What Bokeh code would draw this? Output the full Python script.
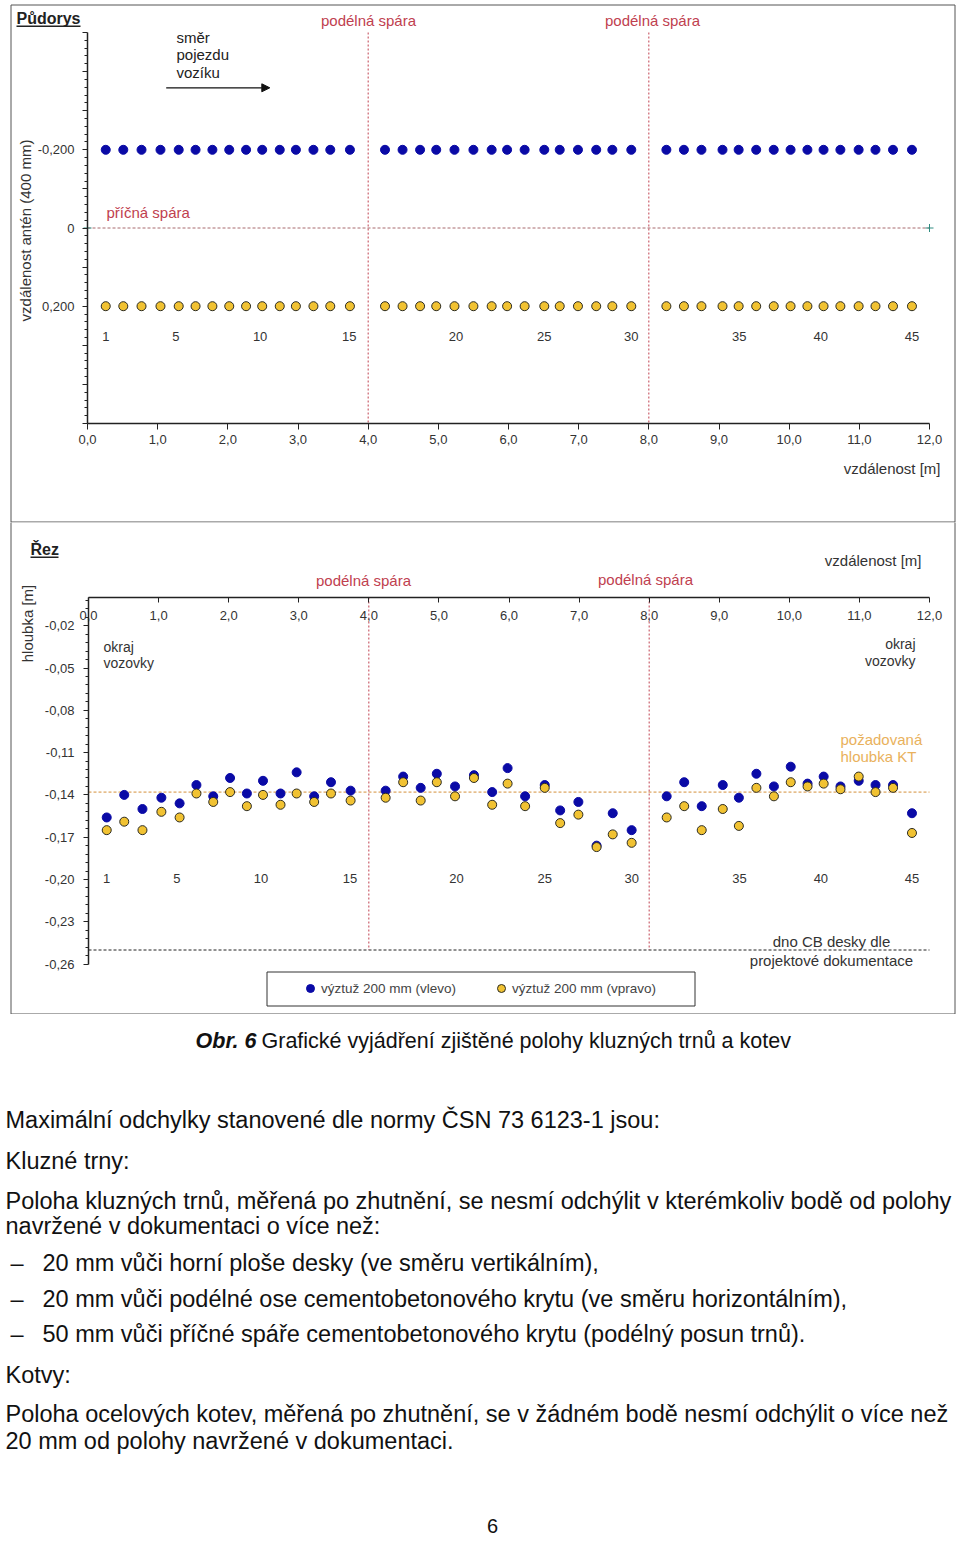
from bokeh.plotting import figure
from bokeh.models import (Range1d, FixedTicker, CustomJSTickFormatter, Label, Arrow,
                          NormalHead, BoxAnnotation, Legend, LegendItem)
from bokeh.layouts import column
from bokeh.embed import file_html
from bokeh.resources import INLINE

FONT = "Liberation Sans"
BLUE = "#0a0aa6"
YELLOW = "#f1c232"
DOT_EDGE = "#2b2b22"
JOINT_RED = "#c0404f"
TEXT = "#333333"

# ---------------- data ----------------
point_no = list(range(1, 46))
position_m = [0.26, 0.51, 0.77, 1.04, 1.30, 1.54, 1.78, 2.02, 2.26, 2.49, 2.74, 2.97, 3.22, 3.46, 3.74,
              4.24, 4.49, 4.74, 4.97, 5.23, 5.50, 5.76, 5.98, 6.23, 6.51, 6.73, 6.99, 7.25, 7.48, 7.75,
              8.25, 8.50, 8.75, 9.05, 9.28, 9.53, 9.78, 10.02, 10.26, 10.49, 10.73, 10.99, 11.23, 11.48, 11.75]
plan_left = [-0.200, -0.200, -0.200, -0.200, -0.200, -0.200, -0.200, -0.200, -0.200, -0.200,
             -0.200, -0.200, -0.200, -0.200, -0.200, -0.200, -0.200, -0.200, -0.200, -0.200,
             -0.200, -0.200, -0.200, -0.200, -0.200, -0.200, -0.200, -0.200, -0.200, -0.200,
             -0.200, -0.200, -0.200, -0.200, -0.200, -0.200, -0.200, -0.200, -0.200, -0.200,
             -0.200, -0.200, -0.200, -0.200, -0.200]
plan_right = [0.200, 0.200, 0.200, 0.200, 0.200, 0.200, 0.200, 0.200, 0.200, 0.200,
              0.200, 0.200, 0.200, 0.200, 0.200, 0.200, 0.200, 0.200, 0.200, 0.200,
              0.200, 0.200, 0.200, 0.200, 0.200, 0.200, 0.200, 0.200, 0.200, 0.200,
              0.200, 0.200, 0.200, 0.200, 0.200, 0.200, 0.200, 0.200, 0.200, 0.200,
              0.200, 0.200, 0.200, 0.200, 0.200]
depth_left = [-0.156, -0.140, -0.150, -0.142, -0.146, -0.133, -0.141, -0.128, -0.139, -0.130,
              -0.139, -0.124, -0.141, -0.131, -0.137,
              -0.137, -0.127, -0.135, -0.125, -0.134, -0.126, -0.138, -0.121, -0.141, -0.133,
              -0.151, -0.145, -0.176, -0.153, -0.165,
              -0.141, -0.131, -0.148, -0.133, -0.142, -0.125, -0.134, -0.120, -0.132, -0.127,
              -0.134, -0.130, -0.133, -0.133, -0.153]
depth_right = [-0.165, -0.159, -0.165, -0.152, -0.156, -0.139, -0.145, -0.138, -0.148, -0.140,
               -0.147, -0.139, -0.145, -0.139, -0.144,
               -0.142, -0.131, -0.144, -0.131, -0.141, -0.128, -0.147, -0.132, -0.148, -0.135,
               -0.160, -0.154, -0.177, -0.168, -0.174,
               -0.156, -0.148, -0.165, -0.150, -0.162, -0.135, -0.141, -0.131, -0.134, -0.132,
               -0.136, -0.127, -0.138, -0.135, -0.167]
number_labels = ["1", "5", "10", "15", "20", "25", "30", "35", "40", "45"]
number_label_x = [0.26, 1.26, 2.46, 3.73, 5.25, 6.51, 7.75, 9.29, 10.45, 11.75]
joint_x = [4.0, 8.0]
transverse_joint = 0.0
required_depth = -0.138
slab_bottom = -0.25
distance_min, distance_max = 0.0, 12.0
plan_min, plan_max = -0.5, 0.5
depth_min, depth_max = -0.26, 0.0
x_ticks = [0.0, 1.0, 2.0, 3.0, 4.0, 5.0, 6.0, 7.0, 8.0, 9.0, 10.0, 11.0, 12.0]
plan_y_ticks = [-0.5, -0.4, -0.3, -0.2, -0.1, 0.0, 0.1, 0.2, 0.3, 0.4, 0.5]
plan_y_label_values = [-0.2, 0.0, 0.2]
plan_y_label_texts = ["-0,200", "0", "0,200"]
depth_y_ticks = [-0.02, -0.05, -0.08, -0.11, -0.14, -0.17, -0.20, -0.23, -0.26]
legend_labels = ["výztuž 200 mm (vlevo)", "výztuž 200 mm (vpravo)"]

caption_bold = "Obr. 6"
caption_rest = "Grafické vyjádření zjištěné polohy kluzných trnů a kotev"
body_lines = [
    "Maximální odchylky stanovené dle normy ČSN 73 6123-1 jsou:",
    "Kluzné trny:",
    "Poloha kluzných trnů, měřená po zhutnění, se nesmí odchýlit v kterémkoliv bodě od polohy",
    "navržené v dokumentaci o více než:",
    None, None, None,
    "Kotvy:",
    "Poloha ocelových kotev, měřená po zhutnění, se v žádném bodě nesmí odchýlit o více než",
    "20 mm od polohy navržené v dokumentaci.",
]
bullet_lines = [
    "20 mm vůči horní ploše desky (ve směru vertikálním),",
    "20 mm vůči podélné ose cementobetonového krytu (ve směru horizontálním),",
    "50 mm vůči příčné spáře cementobetonového krytu (podélný posun trnů).",
]
page_number = "6"

plan_y_minor = [round(-0.5 + 0.02 * i, 3) for i in range(51) if i % 5 != 0]
depth_y_minor = [round(-0.26 + 0.006 * i, 3) for i in range(1, 44) if i % 5 != 0]

# ---------------- layout (pixels) ----------------
W = 958
H1, H2, H3 = 522, 492, 528
# panel 1: x 0 m at px 87, 12 m at px 929; y -0.5 at px 32, 0.5 at px 423
S1X = (929 - 87) / 12.0
S1Y = (423 - 32) / 1.0
def f1x(px): return (px - 87) / S1X
def f1y(py): return -0.5 + (py - 32) / S1Y
# panel 2 (page px, panel starts at 522): x 0 m at px 88, 12 m at px 929; y 0 at px 597
S2X = (929 - 88) / 12.0
S2Y = 1410.0
def f2x(px): return (px - 88) / S2X
def f2y(py): return -(py - 597) / S2Y


# ---------------- helpers ----------------
def style_axis(ax, size="13px"):
    ax.axis_line_color = "#222222"
    ax.axis_line_width = 1.5
    ax.major_tick_line_color = "#222222"
    ax.minor_tick_line_color = "#222222"
    ax.major_label_text_font = FONT
    ax.major_label_text_font_size = size
    ax.major_label_text_color = TEXT


def label(p, x, y, text, size="15px", color=TEXT, align="left", baseline="middle",
          style="normal", angle=0.0):
    p.add_layout(Label(x=x, y=y, text=text, text_font=FONT, text_font_size=size,
                       text_color=color, text_align=align, text_baseline=baseline,
                       text_font_style=style, angle=angle))


def box(p, left, right, top, bottom, fill=None, line="#555555"):
    p.add_layout(BoxAnnotation(left=left, right=right, top=top, bottom=bottom,
                               fill_color=fill if fill else "white", fill_alpha=1.0 if fill else 0.0,
                               line_color=line if line else "white", line_width=1,
                               line_alpha=1.0 if line else 0.0))


def base_fig(**kw):
    p = figure(output_backend="svg", toolbar_location=None, min_border=0,
               min_border_left=0, min_border_right=0, min_border_top=0, min_border_bottom=0, **kw)
    p.outline_line_color = None
    p.background_fill_color = "white"
    p.border_fill_color = "white"
    p.grid.visible = False
    return p


# ---------------- panel 1: Půdorys ----------------
p1 = base_fig(width=W, height=H1,
              x_range=Range1d(f1x(0), f1x(W)), y_range=Range1d(f1y(H1), f1y(0)))

xa = p1.xaxis[0]
xa.fixed_location = plan_max
xa.bounds = (distance_min, distance_max)
xa.ticker = FixedTicker(ticks=x_ticks, minor_ticks=[])
xa.formatter = CustomJSTickFormatter(code="return tick.toFixed(1).replace('.', ',');")
style_axis(xa)
xa.major_tick_out = 6
xa.major_tick_in = 0
xa.minor_tick_out = 0
xa.minor_tick_in = 0
xa.major_label_standoff = 5

ya = p1.yaxis[0]
ya.fixed_location = distance_min
ya.bounds = (plan_min, plan_max)
ya.ticker = FixedTicker(ticks=plan_y_ticks, minor_ticks=plan_y_minor)
ya.formatter = CustomJSTickFormatter(
    args=dict(vals=plan_y_label_values, txts=plan_y_label_texts),
    code="for (let i = 0; i < vals.length; i++) { if (Math.abs(tick - vals[i]) < 1e-9) return txts[i]; } return '';")
style_axis(ya)
ya.major_tick_out = 5
ya.major_tick_in = 0
ya.minor_tick_out = 3
ya.minor_tick_in = 0
ya.major_label_standoff = 8

# joints
p1.segment(x0=joint_x, y0=[plan_min, plan_min], x1=joint_x, y1=[plan_max, plan_max],
           line_color=JOINT_RED, line_dash="2 2", line_width=1)
p1.segment(x0=[distance_min], y0=[transverse_joint], x1=[distance_max], y1=[transverse_joint],
           line_color="#a86a6e", line_dash="3 2", line_width=1)
p1.scatter([distance_min, distance_max], [transverse_joint, transverse_joint],
           marker="cross", size=8, line_color="#2e8b80", line_width=1)

p1.scatter(position_m, plan_left, marker="circle", size=9, fill_color=BLUE, line_color=BLUE)
p1.scatter(position_m, plan_right, marker="circle", size=9, fill_color=YELLOW,
           line_color=DOT_EDGE, line_width=1)

for t, x in zip(number_labels, number_label_x):
    label(p1, x, f1y(336), t, size="13px", align="center")

label(p1, f1x(16), f1y(18), "Půdorys", size="16px", color="#222222", style="bold")
box(p1, f1x(16), f1x(80), f1y(25), f1y(26.4), fill="#222222", line=None)
label(p1, f1x(368), f1y(20), "podélná spára", color=JOINT_RED, align="center")
label(p1, f1x(652), f1y(20), "podélná spára", color=JOINT_RED, align="center")
label(p1, f1x(106), f1y(212), "příčná spára", color=JOINT_RED)
label(p1, f1x(176), f1y(36.7), "směr", color="#222222")
label(p1, f1x(176), f1y(54.3), "pojezdu", color="#222222")
label(p1, f1x(176), f1y(71.7), "vozíku", color="#222222")
p1.add_layout(Arrow(end=NormalHead(size=8, fill_color="#111111", line_color="#111111"),
                    x_start=f1x(165.7), y_start=f1y(87.3), x_end=f1x(269.3), y_end=f1y(87.3),
                    line_color="#111111", line_width=1.2))
label(p1, f1x(940), f1y(468), "vzdálenost [m]", align="right")
label(p1, f1x(25), f1y(230), "vzdálenost antén (400 mm)", align="center", angle=1.5707963)
box(p1, f1x(10.5), f1x(954.5), f1y(4.5), f1y(521.5))

# ---------------- panel 2: Řez ----------------
p2 = base_fig(width=W, height=H2, x_axis_location="above",
              x_range=Range1d(f2x(0), f2x(W)), y_range=Range1d(f2y(522 + H2), f2y(522)))

xa2 = p2.xaxis[0]
xa2.fixed_location = depth_max
xa2.bounds = (distance_min, distance_max)
xa2.ticker = FixedTicker(ticks=x_ticks, minor_ticks=[])
xa2.formatter = CustomJSTickFormatter(code="return tick.toFixed(1).replace('.', ',');")
style_axis(xa2)
xa2.major_tick_out = 0
xa2.major_tick_in = 5
xa2.minor_tick_out = 0
xa2.minor_tick_in = 0
xa2.major_label_standoff = -22

ya2 = p2.yaxis[0]
ya2.fixed_location = distance_min
ya2.bounds = (depth_min, depth_max)
ya2.ticker = FixedTicker(ticks=depth_y_ticks, minor_ticks=depth_y_minor)
ya2.formatter = CustomJSTickFormatter(code="return tick.toFixed(2).replace('.', ',');")
style_axis(ya2)
ya2.major_tick_out = 5
ya2.major_tick_in = 0
ya2.minor_tick_out = 3
ya2.minor_tick_in = 0
ya2.major_label_standoff = 9

p2.segment(x0=[distance_min], y0=[required_depth], x1=[distance_max], y1=[required_depth],
           line_color="#d4903a", line_dash="3 2", line_width=1)
p2.segment(x0=[distance_min], y0=[slab_bottom], x1=[distance_max], y1=[slab_bottom],
           line_color="#222222", line_dash="3 2", line_width=1)
p2.segment(x0=joint_x, y0=[depth_max, depth_max], x1=joint_x, y1=[slab_bottom, slab_bottom],
           line_color=JOINT_RED, line_dash="2 2", line_width=1)

r_left = p2.scatter(position_m, depth_left, marker="circle", size=9, fill_color=BLUE, line_color=BLUE)
r_right = p2.scatter(position_m, depth_right, marker="circle", size=9, fill_color=YELLOW,
                     line_color=DOT_EDGE, line_width=1)

for t, x in zip(number_labels, number_label_x):
    label(p2, x, f2y(878.3), t, size="13px", align="center")

label(p2, f2x(30), f2y(549), "Řez", size="16px", color="#222222", style="bold")
box(p2, f2x(30), f2x(58), f2y(556), f2y(557.4), fill="#222222", line=None)
label(p2, f2x(27), f2y(623), "hloubka [m]", align="center", angle=1.5707963)
label(p2, f2x(363), f2y(580), "podélná spára", color=JOINT_RED, align="center")
label(p2, f2x(645), f2y(579), "podélná spára", color=JOINT_RED, align="center")
label(p2, f2x(921), f2y(560), "vzdálenost [m]", align="right")
label(p2, f2x(103), f2y(646), "okraj", size="14px")
label(p2, f2x(103), f2y(662.7), "vozovky", size="14px")
label(p2, f2x(915), f2y(643.3), "okraj", size="14px", align="right")
label(p2, f2x(915), f2y(660), "vozovky", size="14px", align="right")
label(p2, f2x(840), f2y(739.3), "požadovaná", color="#e9b15c")
label(p2, f2x(840), f2y(756), "hloubka KT", color="#e9b15c")
label(p2, f2x(831), f2y(941), "dno CB desky dle", align="center")
label(p2, f2x(831), f2y(960), "projektové dokumentace", align="center")

legend = Legend(items=[LegendItem(label=legend_labels[0], renderers=[r_left]),
                       LegendItem(label=legend_labels[1], renderers=[r_right])],
                orientation="horizontal", location=(300, 16), padding=0, margin=0,
                spacing=30, glyph_width=20, glyph_height=20, label_height=20, label_width=140,
                label_standoff=1, border_line_alpha=0, background_fill_alpha=0,
                label_text_font=FONT, label_text_font_size="13.5px", label_text_color="#444444")
p2.add_layout(legend)
box(p2, f2x(266.5), f2x(694.5), f2y(971.5), f2y(1005.5), line="#333333")
box(p2, f2x(10.5), f2x(954.5), f2y(521.5), f2y(1013.5))

# ---------------- text block ----------------
p3 = base_fig(width=W, height=H3, x_range=Range1d(0, W), y_range=Range1d(H3, 0),
              x_axis_type=None, y_axis_type=None)
TOP3 = 522 + H2
label(p3, 256, 1040 - TOP3, caption_bold, size="21.5px", color="#111111", align="right",
      style="bold italic")
label(p3, 261, 1040 - TOP3, caption_rest, size="21.5px", color="#111111")
body_y = [1119, 1160, 1200, 1225, 1262, 1298, 1333, 1374, 1413, 1440]
bi = 0
for line, y in zip(body_lines, body_y):
    if line is None:
        label(p3, 10, y - TOP3, "–", size="23.5px", color="#111111")
        label(p3, 42, y - TOP3, bullet_lines[bi], size="23.5px", color="#111111")
        bi += 1
    else:
        label(p3, 5, y - TOP3, line, size="23.5px", color="#111111")
label(p3, 492, 1525 - TOP3, page_number, size="20px", color="#111111", align="center")

layout = column(p1, p2, p3, spacing=0)
open("out.html", "w").write(file_html(layout, INLINE))
